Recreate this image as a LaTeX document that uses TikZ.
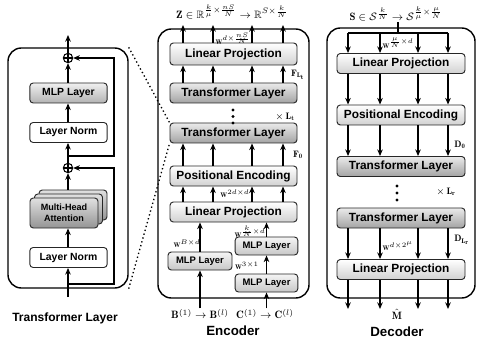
\documentclass[tikz,border=0pt]{standalone}
\usepackage{amsmath,amssymb}
\usepackage{fontspec}
\setsansfont{Liberation Sans}
\usetikzlibrary{arrows.meta}

\tikzset{
  blk/.style={draw=black!85, line width=0.7pt, rounded corners=2.5pt, inner sep=0pt,
    font=\sffamily\bfseries\fontsize{8.9}{10}\selectfont},
  lpbox/.style={blk, top color=white, bottom color=black!18, minimum width=95.25pt, minimum height=15pt},
  tfbox/.style={blk, top color=black!8, bottom color=black!36, minimum width=95.25pt, minimum height=15pt},
  mlpbox/.style={blk, top color=black!4, bottom color=black!22, minimum height=13.5pt,
    font=\sffamily\bfseries\fontsize{7.1}{8}\selectfont},
  lnbox/.style={blk, fill=white, minimum width=58pt, minimum height=15pt,
    font=\sffamily\bfseries\fontsize{7.8}{9}\selectfont},
  mhabox/.style={blk, top color=black!12, bottom color=black!42, minimum width=51pt, minimum height=22.5pt,
    font=\sffamily\bfseries\fontsize{6.8}{8}\selectfont},
  addop/.style={draw, circle, inner sep=0pt, minimum size=7pt, line width=0.8pt},
  panel/.style={draw, line width=1.05pt, rounded corners=10pt, inner sep=0pt},
  caption/.style={font=\sffamily\bfseries\fontsize{10}{12}\selectfont},
  wlab/.style={inner sep=0pt, font=\fontsize{5}{6}\selectfont},
  flab/.style={inner sep=0pt, font=\fontsize{7}{8}\selectfont},
  iolab/.style={inner sep=0pt, font=\fontsize{8}{9}\selectfont},
}

\begin{document}
\begin{tikzpicture}[x=0.75pt, y=-0.75pt, line width=1pt, >={Stealth[length=5pt,width=4.2pt]}]
    \useasboundingbox (0,0) rectangle (477,338);

    % outer panels
    \node[panel, minimum width=90pt, minimum height=180pt] (tlbox) at (68,168) {};
    \node[panel, minimum width=113.25pt, minimum height=201.75pt] (encbox) at (233.5,163.5) {};
    \node[panel, minimum width=111pt, minimum height=202.5pt] (decbox) at (401,163) {};

    % transformer layer in detail
    \node[addop] (add1) at (68,58) {};
    \node[lnbox, top color=black!6, bottom color=black!30] (mlp) at (68.5,93) {MLP Layer};
    \node[lnbox] (ln1) at (68.5,132.5) {Layer Norm};
    \node[addop] (add2) at (68,168) {};
    \node[mhabox] (mha3) at (73,205) {};
    \node[mhabox] (mha2) at (68.5,209) {};
    \node[mhabox, align=center] (mha) at (64,213) {Multi-Head\\Attention};
    \node[lnbox] (ln2) at (68.5,257.5) {Layer Norm};
    \node[caption, font=\sffamily\bfseries\fontsize{9}{11}\selectfont] (tlcap) at (65,318) {Transformer Layer};
    \draw[line width=0.8pt] (add1.north) -- (add1.south) (add1.west) -- (add1.east);
    \draw[line width=0.8pt] (add2.north) -- (add2.south) (add2.west) -- (add2.east);
    \coordinate (tlin) at (68,297);
    \coordinate (tlout) at (68,35);
    \coordinate (res1) at (68,284);
    \coordinate (res2) at (68,156);
    \coordinate (resx) at (114,0);
    \draw[->] (tlin) -- (ln2.south -| tlin);
    \draw[->] (ln2.north -| tlin) -- (mha.south -| tlin);
    \draw[->] (mha3.north -| tlin) -- (add2.south);
    \draw[->] (add2.north) -- (ln1.south -| add2);
    \draw[->] (ln1.north -| add2) -- (mlp.south -| add2);
    \draw[->] (mlp.north -| add2) -- (add1.south);
    \draw[->] (add1.north) -- (tlout);
    \draw[->] (res1) -| (resx |- add2) -- (add2.east);
    \draw[->] (res2) -| (resx |- add1) -- (add1.east);

    % encoder
    \foreach \x [count=\i] in {183,213,252,283} \coordinate (e\i) at (\x,0);
    \coordinate (ztop) at (0,25);
    \node[lpbox, minimum height=16.5pt] (elp2) at (233.5,54) {Linear Projection};
    \node[tfbox] (etl2) at (233.5,93) {Transformer Layer};
    \node[tfbox] (etl1) at (233.5,133) {Transformer Layer};
    \node[lpbox] (epe) at (233.5,176) {Positional Encoding};
    \node[lpbox] (elp1) at (233.5,212) {Linear Projection};
    \node[mlpbox, minimum width=48pt] (emlpb) at (200,261) {MLP Layer};
    \node[mlpbox, minimum width=47pt] (emlpc2) at (266.5,246) {MLP Layer};
    \node[mlpbox, minimum width=47pt] (emlpc1) at (266.5,283) {MLP Layer};
    \node[iolab] (zlab) at (232,12) {$\mathbf{Z}\in\mathbb{R}^{\frac{k}{\mu}\times\frac{nS}{N}}\rightarrow\mathbb{R}^{S\times\frac{k}{N}}$};
    \node[iolab] (blab) at (200,314) {$\mathbf{B}^{(1)}\rightarrow\mathbf{B}^{(l)}$};
    \node[iolab] (clab) at (265,314) {$\mathbf{C}^{(1)}\rightarrow\mathbf{C}^{(l)}$};
    \node[caption] (enccap) at (233,331) {Encoder};
    \foreach \i in {1,...,4} {
        \draw[->] (elp2.north -| e\i) -- (ztop -| e\i);
        \draw[->] (etl2.north -| e\i) -- (elp2.south -| e\i);
        \draw[->] (epe.north -| e\i) -- (etl1.south -| e\i);
        \draw[->] (elp1.north -| e\i) -- (epe.south -| e\i);
    }
    \draw[->] (emlpb.north) -- (elp1.south -| emlpb);
    \draw[->] (emlpc2.north) -- (elp1.south -| emlpc2);
    \draw[->] (emlpc1.north) -- (emlpc2.south);
    \draw[->] (blab.north -| emlpb) -- (emlpb.south);
    \draw[->] (clab.north -| emlpc1) -- (emlpc1.south);
    \foreach \y in {110,116.5,123} \fill (233,\y) circle (1.3pt);
    \node[wlab] (wenc4) at (233,39) {$\mathbf{W}^{d\times\frac{nS}{N}}$};
    \node[wlab] (wenc3) at (235,194) {$\mathbf{W}^{2d\times d}$};
    \node[wlab] (wencb) at (187,244) {$\mathbf{W}^{B\times d}$};
    \node[wlab] (wencc2) at (250,232) {$\mathbf{W}^{\frac{k}{N}\times d}$};
    \node[wlab] (wencc1) at (247,266) {$\mathbf{W}^{3\times 1}$};
    \node[flab] (flt) at (298,75) {$\mathbf{F}_{\mathbf{L_t}}$};
    \node[flab] (f0) at (298,155) {$\mathbf{F_0}$};
    \node[flab] (nlt) at (285,117) {$\times\,\mathbf{L_t}$};

    % decoder
    \foreach \x [count=\i] in {348,380,418,448} \coordinate (d\i) at (\x,0);
    \coordinate (dsplit) at (398,33);
    \coordinate (dout) at (0,309);
    \node[lpbox, minimum width=96pt] (dlp1) at (401,63.5) {Linear Projection};
    \node[lpbox, minimum width=96pt] (dpe) at (401,115) {Positional Encoding};
    \node[tfbox, minimum width=96pt] (dtl1) at (401,166.5) {Transformer Layer};
    \node[tfbox, minimum width=96pt] (dtl2) at (401,218) {Transformer Layer};
    \node[lpbox, minimum width=96pt] (dlp2) at (401,269.5) {Linear Projection};
    \node[iolab] (slab) at (396,14) {$\mathbf{S}\in\mathcal{S}^{\frac{k}{N}}\rightarrow\mathcal{S}^{\frac{k}{\mu}\times\frac{\mu}{N}}$};
    \node[iolab] (mlab) at (397,314) {$\hat{\mathbf{M}}$};
    \node[caption] (deccap) at (397,332) {Decoder};
    \draw (slab.south -| dsplit) -- (dsplit);
    \draw (dsplit -| d1) -- (dsplit -| d4);
    \foreach \i in {1,...,4} {
        \draw[->] (dsplit -| d\i) -- (dlp1.north -| d\i);
        \draw[->] (dlp1.south -| d\i) -- (dpe.north -| d\i);
        \draw[->] (dpe.south -| d\i) -- (dtl1.north -| d\i);
        \draw[->] (dtl2.south -| d\i) -- (dlp2.north -| d\i);
        \draw[->] (dlp2.south -| d\i) -- (dout -| d\i);
    }
    \foreach \y in {186,193,200} \fill (397,\y) circle (1.3pt);
    \node[wlab] (wdec1) at (398,43) {$\mathbf{W}^{\frac{\mu}{N}\times d}$};
    \node[wlab] (wdec2) at (398,246) {$\mathbf{W}^{d\times 2^{\mu}}$};
    \node[flab] (dzero) at (460,145) {$\mathbf{D_0}$};
    \node[flab] (dlr) at (462,240) {$\mathbf{D}_{\mathbf{L_r}}$};
    \node[flab] (nlr) at (446,192) {$\times\,\mathbf{L_r}$};

    % zoom lines
    \draw[dotted, line width=1pt] (tlbox.north east) -- (etl1.north west);
    \draw[dotted, line width=1pt] (tlbox.south east) -- (etl1.south west);
\end{tikzpicture}
\end{document}
